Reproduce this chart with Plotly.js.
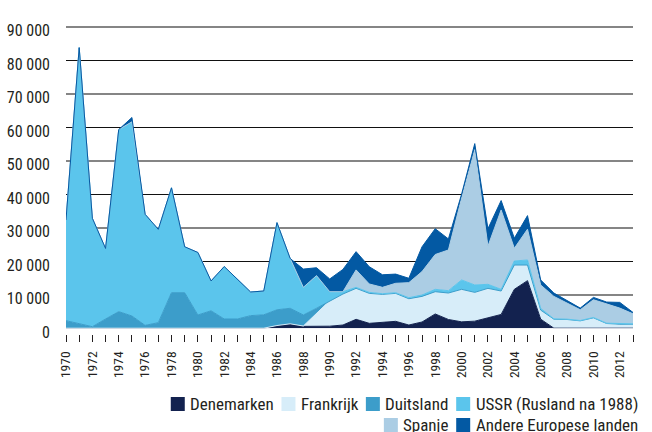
<!DOCTYPE html>
<html><head><meta charset="utf-8">
<script src="https://cdn.plot.ly/plotly-3.0.1.min.js"></script>
<style>html,body{margin:0;padding:0;background:#fff}#chart{width:652px;height:432px}</style>
</head><body><div id="chart"></div>
<script>
const years = [1970,1971,1972,1973,1974,1975,1976,1977,1978,1979,1980,1981,1982,1983,1984,1985,1986,1987,1988,1989,1990,1991,1992,1993,1994,1995,1996,1997,1998,1999,2000,2001,2002,2003,2004,2005,2006,2007,2008,2009,2010,2011,2012,2013];
const seriesNames = ['Denemarken','Frankrijk','Duitsland','USSR (Rusland na 1988)','Spanje','Andere Europese landen'];
const denemarken = [0,0,0,0,0,0,0,0,0,0,0,0,0,0,0,0,800,1300,550,500,600,950,2650,1450,1650,2050,950,1850,4250,2600,1900,2100,3100,4100,11600,14200,2700,0,0,0,0,0,0,0];
const frankrijk = [0,0,0,0,0,0,0,0,0,0,0,0,0,0,0,0,0,0,100,3950,7600,9250,9250,8950,8450,8350,7850,7650,6650,7900,9700,8600,8800,7000,7260,4660,2700,2700,2600,2200,3100,1400,1200,1200];
const duitsland = [2250,1250,450,2750,4950,3650,850,1650,10600,10600,3950,5200,2750,2750,3750,4000,4700,4650,3300,1500,0,0,0,0,0,0,0,0,0,0,0,0,0,0,0,0,0,0,0,0,0,0,0,0];
const ussr = [30050,82500,32350,21050,54350,57950,33150,27850,31300,13700,18650,8900,15650,11850,7050,7100,26000,14850,8250,9750,2700,700,300,300,200,200,300,400,700,700,2800,2200,1200,500,1200,1500,500,100,100,100,100,100,100,100];
const spanje = [0,0,0,0,0,0,0,0,0,0,0,0,0,0,0,0,0,0,0,0,0,0,5200,2500,1900,2800,4500,7000,10400,12150,24400,40400,11400,23700,3800,9200,7000,6700,4800,3200,5300,5700,4700,3000];
const andere = [0,0,0,0,0,1300,0,0,0,0,0,0,0,0,0,0,0,0,5450,2350,3800,6650,5450,5150,3750,2750,1300,7400,7700,3300,1200,1800,5200,2800,3000,4050,1500,1000,800,500,700,600,1700,400];
const yTicks = [0,10000,20000,30000,40000,50000,60000,70000,80000,90000];
const grayGrid = [10000,30000,50000,70000,90000];
const blackGrid = [20000,40000,60000,80000];

const colors = ['#13224f','#d7edf9','#3c9dca','#5bc5ec','#abcde4','#0359a3'];
const seriesData = [denemarken,frankrijk,duitsland,ussr,spanje,andere];

const FONT = '"Roboto Condensed", Roboto, sans-serif';
const W=652,H=432,L=66,R=19,T=20,B=98;
const pw=W-L-R, ph=H-T-B;

const traces = seriesData.map((d,i)=>({
  type:'scatter', mode:'lines', x:years, y:d, stackgroup:'one',
  name:seriesNames[i], fillcolor:colors[i], line:{color:colors[i],width:1}, showlegend:false
}));

// custom legend (right-aligned rows, square swatches)
const ctx=document.createElement('canvas').getContext('2d');
const LFS=17; ctx.font=LFS+'px "Roboto Condensed"';
const rows=[[0,1,2,3],[4,5]]; const rowY=[404,425];
const shapes=[], annos=[];
const toPX=x=>(x-L)/pw, toPY=y=>(T+ph-y)/ph;
rows.forEach((row,ri)=>{
  let x=637;
  for(let k=row.length-1;k>=0;k--){
    const i=row[k]; const w=ctx.measureText(seriesNames[i]).width;
    const tl=x-w; const sr=tl-4.5; const sl=sr-14;
    shapes.push({type:'rect',xref:'paper',yref:'paper',x0:toPX(sl),x1:toPX(sr),y0:toPY(rowY[ri]+7),y1:toPY(rowY[ri]-7),fillcolor:colors[i],line:{width:0}});
    annos.push({xref:'paper',yref:'paper',x:toPX(tl),y:toPY(rowY[ri]),xanchor:'left',yanchor:'middle',text:seriesNames[i],showarrow:false,font:{family:FONT,size:LFS,color:'#231f20'},borderpad:0});
    x=sl-8.5;
  }
});

const layout={
  width:W,height:H,margin:{l:L,r:R,t:T,b:B,pad:0},
  paper_bgcolor:'#fff',plot_bgcolor:'rgba(0,0,0,0)',
  separators:', ',showlegend:false,
  font:{family:FONT,color:'#231f20'},
  xaxis:{range:[1970,2013],anchor:'free',position:0,showgrid:false,zeroline:false,showline:false,
    tick0:1970,dtick:2,ticks:'outside',ticklen:7,tickwidth:1,tickcolor:'#231f20',tickformat:'d',
    tickangle:-90,tickfont:{family:FONT,size:13.5,color:'#231f20'},ticklabelstandoff:4,
    minor:{dtick:1,ticks:'outside',ticklen:7,tickwidth:1,tickcolor:'#231f20',showgrid:false}},
  yaxis:{domain:[(334-328.2)/ph,1],range:[0,92000],tickvals:yTicks,tickformat:',d',showgrid:false,zeroline:false,
    showline:false,ticks:'',tickfont:{family:FONT,size:16,color:'#231f20'},ticklabelstandoff:15,ticklabelshift:4},
  yaxis2:{overlaying:'y',domain:[(334-328.2)/ph,1],range:[0,92000],tickvals:grayGrid,showticklabels:false,ticks:'',
    showgrid:true,gridcolor:'#858585',gridwidth:2,zeroline:false,showline:false},
  yaxis3:{overlaying:'y',domain:[(334-328.2)/ph,1],range:[0,92000],tickvals:blackGrid,showticklabels:false,ticks:'',
    showgrid:true,gridcolor:'#111111',gridwidth:1.2,zeroline:false,showline:false},
  shapes:shapes,annotations:annos
};
traces.push({type:'scatter',x:[1970],y:[0],yaxis:'y2',mode:'markers',marker:{opacity:0},showlegend:false,hoverinfo:'skip'});
traces.push({type:'scatter',x:[1970],y:[0],yaxis:'y3',mode:'markers',marker:{opacity:0},showlegend:false,hoverinfo:'skip'});
Plotly.newPlot('chart',traces,layout,{staticPlot:true,displayModeBar:false});
</script></body></html>
